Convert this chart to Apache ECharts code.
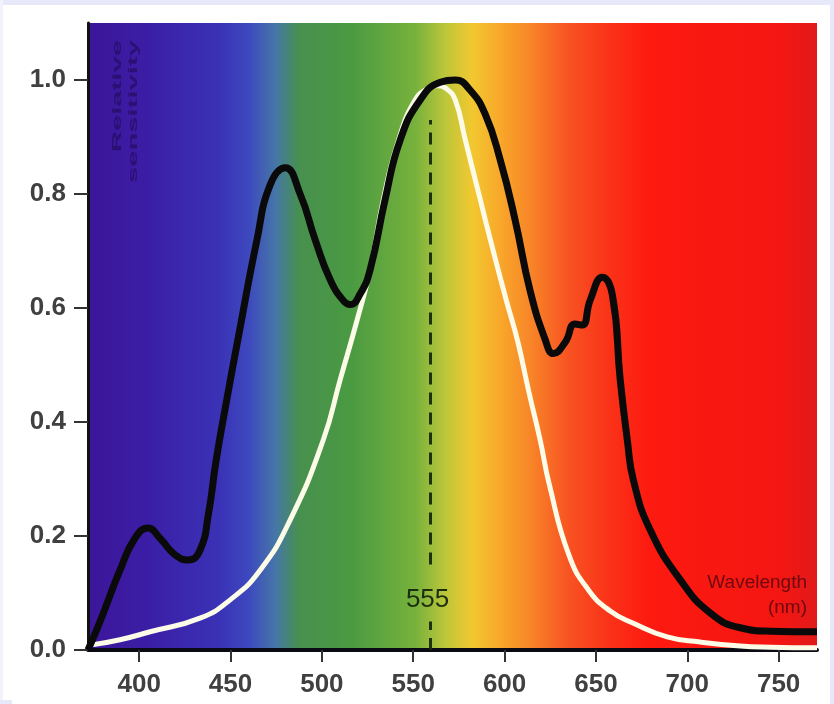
<!DOCTYPE html>
<html>
<head>
<meta charset="utf-8">
<script src="https://cdn.jsdelivr.net/npm/echarts@6/dist/echarts.min.js"></script>
<style>
html,body{margin:0;padding:0;background:#e8e8fb;}
#chart{width:834px;height:704px;}
</style>
</head>
<body>
<div id="chart"></div>
<script>
// ---- data ----
var xTickValues = [400, 450, 500, 550, 600, 650, 700, 750];
var yTickValues = [0, 0.2, 0.4, 0.6, 0.8, 1.0];

var blackWavelengths = [372, 378.6, 389.5, 397.7, 404.9, 411.4, 419.6, 426.8, 433.3, 438, 442, 448, 454, 464.5, 471.7, 479.9, 488.1, 496.3, 504.5, 512, 515.5, 521, 526.4, 534.6, 542.9, 553.8, 564.8, 573, 581.2, 589.4, 597.6, 605.8, 614, 622.3, 626.7, 633.2, 638.5, 642.5, 646.9, 653.5, 659, 663.3, 667.2, 670.5, 679.8, 696.2, 712.6, 729, 745.5, 771];
var blackValues      = [0.00, 0.05, 0.14, 0.196, 0.214, 0.196, 0.167, 0.158, 0.175, 0.24, 0.33, 0.44, 0.544, 0.72, 0.816, 0.846, 0.80, 0.72, 0.65, 0.612, 0.606, 0.625, 0.667, 0.79, 0.895, 0.965, 0.996, 1.0, 0.982, 0.94, 0.86, 0.754, 0.63, 0.544, 0.52, 0.54, 0.572, 0.57, 0.614, 0.654, 0.623, 0.474, 0.368, 0.298, 0.21, 0.123, 0.065, 0.039, 0.033, 0.032];

var whiteWavelengths = [374, 389.5, 406, 433.3, 449.8, 466.2, 482.6, 500.7, 510, 519.3, 526.4, 533.6, 542, 551, 558, 563, 568, 573, 578.5, 586.7, 592.2, 600.9, 607, 613.5, 619.5, 624.5, 635.4, 646, 658, 670.5, 689, 707, 729, 745.5, 771];
var whiteValues      = [0.009, 0.018, 0.032, 0.056, 0.088, 0.14, 0.228, 0.368, 0.474, 0.579, 0.667, 0.79, 0.895, 0.965, 0.985, 0.99, 0.985, 0.965, 0.895, 0.79, 0.72, 0.614, 0.544, 0.45, 0.368, 0.29, 0.165, 0.105, 0.068, 0.047, 0.023, 0.014, 0.007, 0.005, 0.004];

var markWavelength = 559.5;
var markLabel = '555';
var yTitle = 'Relative\nsensitivity';
var xTitle = 'Wavelength\n(nm)';

function pairs(xs, ys) { return xs.map(function (x, i) { return [x, ys[i]]; }); }

var chart = echarts.init(document.getElementById('chart'));

var spectrum = new echarts.graphic.LinearGradient(0, 0, 1, 0, [
  {offset: 0.00, color: '#3c169a'},
  {offset: 0.085, color: '#3b1ea6'},
  {offset: 0.18, color: '#3a32b6'},
  {offset: 0.22, color: '#3d48be'},
  {offset: 0.257, color: '#4676a8'},
  {offset: 0.29, color: '#47904e'},
  {offset: 0.36, color: '#4a9a42'},
  {offset: 0.45, color: '#78b23c'},
  {offset: 0.49, color: '#bcc63a'},
  {offset: 0.527, color: '#f2c830'},
  {offset: 0.565, color: '#f8a82a'},
  {offset: 0.606, color: '#f88628'},
  {offset: 0.66, color: '#f85222'},
  {offset: 0.716, color: '#fa3218'},
  {offset: 0.77, color: '#fd1a10'},
  {offset: 0.95, color: '#f41612'},
  {offset: 1.00, color: '#e01a1a'}
]);

var labelFont = {fontFamily: 'Liberation Sans, Arial, sans-serif', fontSize: 26, fontWeight: 'bold', color: '#404040'};

chart.setOption({
  backgroundColor: '#ffffff',
  animation: false,
  grid: {left: 88, right: 17, top: 23, bottom: 54, show: true, backgroundColor: spectrum, borderWidth: 0},
  xAxis: {
    type: 'value', min: 372, max: 771,
    splitLine: {show: false},
    axisLine: {show: true, onZero: false, lineStyle: {color: '#0a0a14', width: 4}},
    axisTick: {show: true, customValues: xTickValues, length: 12, lineStyle: {color: '#333', width: 2}},
    axisLabel: Object.assign({customValues: xTickValues, margin: 22}, labelFont)
  },
  yAxis: {
    type: 'value', min: 0, max: 1.1,
    splitLine: {show: false},
    axisLine: {show: true, lineStyle: {color: '#111', width: 3}},
    axisTick: {show: true, customValues: yTickValues, length: 14, lineStyle: {color: '#333', width: 2}},
    axisLabel: Object.assign({customValues: yTickValues, margin: 22, formatter: function (v) { return v.toFixed(1); }}, labelFont)
  },
  series: [
    {
      type: 'line', name: 'white', data: pairs(whiteWavelengths, whiteValues),
      smooth: 0.5, showSymbol: false, z: 3, clip: true,
      lineStyle: {color: '#fbfbe8', width: 5}
    },
    {
      type: 'line', name: 'black', data: pairs(blackWavelengths, blackValues),
      smooth: 0.5, showSymbol: false, z: 4, clip: true,
      lineStyle: {color: '#0a0a0a', width: 7},
      markLine: {
        silent: true, symbol: 'none', label: {show: false},
        lineStyle: {color: '#18280c', width: 3, type: [12, 8], opacity: 0.95},
        data: [
          [{coord: [markWavelength, 0]}, {coord: [markWavelength, 0.05]}],
          [{coord: [markWavelength, 0.15]}, {coord: [markWavelength, 0.93]}]
        ]
      }
    }
  ]
});

var p555 = chart.convertToPixel({gridIndex: 0}, [markWavelength, 0.088]);
var pYT = chart.convertToPixel({gridIndex: 0}, [372, 1.1]);
var pXT = chart.convertToPixel({gridIndex: 0}, [771, 0.0]);

chart.setOption({
  graphic: [
    {type: 'rect', shape: {x: 0, y: 0, width: 834, height: 5}, style: {fill: '#e8e8fb'}, silent: true},
    {type: 'rect', shape: {x: 830, y: 0, width: 4, height: 704}, style: {fill: '#e8e8fb'}, silent: true},
    {type: 'rect', shape: {x: 0, y: 0, width: 3, height: 704}, style: {fill: '#f2f2fc'}, silent: true},
    {type: 'rect', shape: {x: 0, y: 700, width: 12, height: 4}, style: {fill: '#e8e8fb'}, silent: true},
    {type: 'text', x: p555[0] - 3, y: p555[1], z: 10, silent: true,
     style: {text: markLabel, fill: '#1d2d10', font: '26px Liberation Sans, Arial, sans-serif', align: 'center', verticalAlign: 'middle'}},
    {type: 'text', x: pYT[0] + 21, y: pYT[1] + 17, rotation: Math.PI / 2, scaleX: 2.25, z: 10, silent: true,
     style: {text: yTitle, fill: 'rgba(35,8,85,0.6)', font: 'bold 13px Liberation Sans, Arial, sans-serif', align: 'right', verticalAlign: 'top', lineHeight: 16}},
    {type: 'text', x: pXT[0] - 10, y: pXT[1] - 80, z: 10, silent: true,
     style: {text: xTitle, fill: '#6e0810', font: '19px Liberation Sans, Arial, sans-serif', align: 'right', verticalAlign: 'top', lineHeight: 25}}
  ]
});
</script>
</body>
</html>
